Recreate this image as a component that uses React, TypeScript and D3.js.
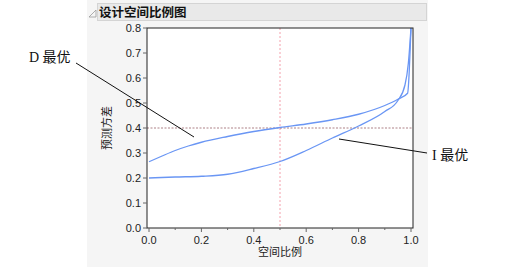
import React from "react";
import * as d3 from "d3";

const dX = [0, 0.05, 0.1, 0.15, 0.2, 0.3, 0.4, 0.5, 0.6, 0.7, 0.8, 0.9, 0.95, 0.987, 0.993, 0.997, 1.0];
const dY = [0.265, 0.288, 0.31, 0.328, 0.343, 0.366, 0.386, 0.402, 0.416, 0.433, 0.455, 0.49, 0.515, 0.539, 0.62, 0.72, 0.8];
const iX = [0, 0.1, 0.2, 0.3, 0.4, 0.5, 0.6, 0.7, 0.8, 0.9, 0.95, 0.977, 0.99, 1.0];
const iY = [0.2, 0.204, 0.207, 0.215, 0.238, 0.266, 0.31, 0.36, 0.408, 0.466, 0.51, 0.572, 0.66, 0.8];
const xTicks = [0, 0.2, 0.4, 0.6, 0.8, 1.0];
const xMinor = [0.1, 0.3, 0.5, 0.7, 0.9];
const yTicks = [0, 0.1, 0.2, 0.3, 0.4, 0.5, 0.6, 0.7, 0.8];
const refY = 0.4;
const refX = 0.5;
const title = "设计空间比例图";
const xLabel = "空间比例";
const yLabel = "预测方差";

export default function App() {
  const fL = 147, fR = 413, fT = 28, fB = 228;
  const x = d3.scaleLinear().domain([0, 1]).range([149, 411]);
  const y = d3.scaleLinear().domain([0, 0.8]).range([fB, fT]);
  const line = d3.line<number>().curve(d3.curveMonotoneX);
  const dPath = line(dX.map((v, i) => [x(v), y(dY[i])]) as any);
  const iPath = line(iX.map((v, i) => [x(v), y(iY[i])]) as any);
  const tickFont = "'Liberation Sans', Arial, sans-serif";
  const cjk = "'Noto Sans CJK SC', sans-serif";
  const serif = "'Liberation Serif', 'Noto Sans CJK SC', serif";
  return (
    <svg width={505} height={267} style={{ position: "absolute", left: 0, top: 0 }}>
      <rect x={0} y={0} width={505} height={267} fill="#fff" />
      <rect x={87} y={0} width={341} height={267} fill="#f5f5f5" />
      <rect x={97.5} y={3.5} width={329} height={17} fill="#e9e9e9" stroke="#d4d4d4" />
      <path d="M89,17 L96,10 L96,17 Z" fill="none" stroke="#999" strokeWidth={0.8} />
      <text x={99} y={17} fontFamily={cjk} fontWeight="bold" fontSize={12.5} fill="#111">{title}</text>
      <rect x={fL} y={fT} width={fR - fL} height={fB - fT} fill="#fff" />
      <line x1={x(refX)} x2={x(refX)} y1={fT} y2={fB} stroke="#f4a0ac" strokeWidth={1} strokeDasharray="2,2" />
      <line x1={fL} x2={fR} y1={y(refY)} y2={y(refY)} stroke="#8a4a55" strokeWidth={0.7} strokeDasharray="2,1.5" />
      <path d={dPath || ""} fill="none" stroke="#6a96f4" strokeWidth={1.3} />
      <path d={iPath || ""} fill="none" stroke="#6a96f4" strokeWidth={1.3} />
      <rect x={fL} y={fT} width={fR - fL} height={fB - fT} fill="none" stroke="#222" strokeWidth={1} />
      {yTicks.map((t) => (
        <g key={"y" + t}>
          <line x1={fL - 4} x2={fL} y1={y(t)} y2={y(t)} stroke="#666" />
          <text x={fL - 6} y={y(t) + 4} textAnchor="end" fontFamily={tickFont} fontSize={11} fill="#222">{t.toFixed(1)}</text>
        </g>
      ))}
      {xTicks.map((t) => (
        <g key={"x" + t}>
          <line x1={x(t)} x2={x(t)} y1={fB} y2={fB + 4} stroke="#666" />
          <text x={x(t)} y={fB + 16} textAnchor="middle" fontFamily={tickFont} fontSize={11} fill="#222">{t.toFixed(1)}</text>
        </g>
      ))}
      {xMinor.map((t) => (
        <line key={"m" + t} x1={x(t)} x2={x(t)} y1={fB} y2={fB + 2} stroke="#666" />
      ))}
      <text x={(fL + fR) / 2} y={256} textAnchor="middle" fontFamily={cjk} fontSize={11} fill="#222">{xLabel}</text>
      <text transform={`translate(111,${(fT + fB) / 2}) rotate(-90)`} textAnchor="middle" fontFamily={cjk} fontSize={11} fill="#222">{yLabel}</text>
      <line x1={76} y1={63} x2={194} y2={137} stroke="#111" strokeWidth={1} />
      <text x={29} y={62} fontFamily={serif} fontSize={14} fill="#111">D 最优</text>
      <line x1={339} y1={139} x2={427} y2={153} stroke="#111" strokeWidth={1} />
      <text x={432} y={160} fontFamily={serif} fontSize={14} fill="#111">I 最优</text>
    </svg>
  );
}
